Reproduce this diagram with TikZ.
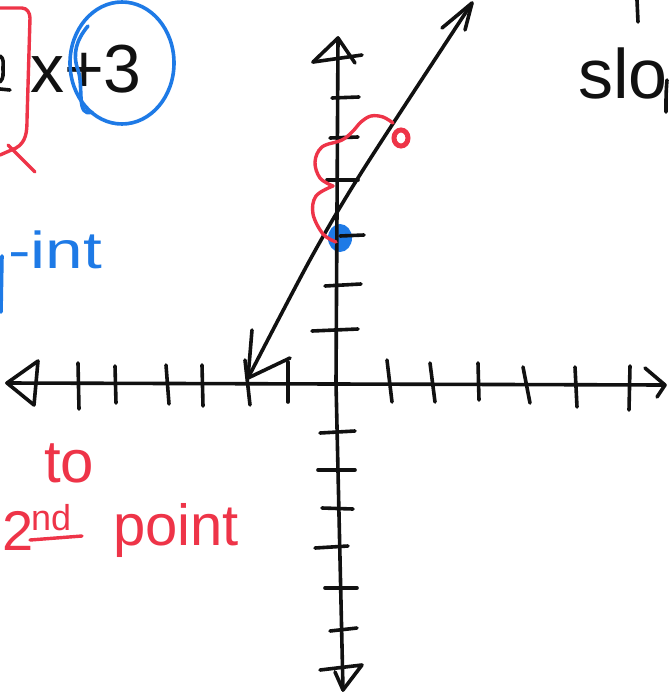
\documentclass[tikz,border=0pt]{standalone}
\usepackage{fontspec}
\usepackage{graphicx}
\setmainfont{Liberation Sans}
\definecolor{inkred}{RGB}{238,52,72}
\definecolor{inkblue}{RGB}{30,122,230}
\definecolor{inkblack}{RGB}{17,17,17}
\begin{document}
\begin{tikzpicture}[x=1pt,y=-1pt,
  ink/.style={draw=inkblack,line width=3.6pt,line cap=round,line join=round},
  redink/.style={draw=inkred,line width=3.4pt,line cap=round,line join=round},
  blueink/.style={draw=inkblue,line width=3.6pt,line cap=round,line join=round},
  blacktext/.style={inner sep=0pt,text=inkblack},
  redtext/.style={inner sep=0pt,text=inkred},
  bluetext/.style={inner sep=0pt,text=inkblue}]
\useasboundingbox (0,0) rectangle (670,694);

% blue dot (y-intercept)
\fill[inkblue] (340,238) ellipse [x radius=12, y radius=14];

% x-axis
\coordinate (xl) at (7,383);
\coordinate (xr) at (665,385);
\draw[ink] (xl) -- (xr);
\draw[ink] (38,361) -- (xl) -- (34,405) -- cycle;
\draw[ink] (645,368) -- (xr) -- (657,397);
\foreach \a/\b/\c/\d in {78/363/79/409, 115/366/116/403, 166/365/169/404, 202/365/203/406,
  245/360/250/405, 288/362/288/402, 387/360/392/402, 430/363/435/402, 478/363/479/400,
  523/367/530/403, 575/367/577/407, 630/366/629/410}
  \draw[ink] (\a,\b) -- (\c,\d);

% y-axis
\coordinate (yt) at (338,38);
\coordinate (ym) at (336,383);
\coordinate (yb) at (343,690);
\draw[ink] (yt) -- (ym) -- (yb);
\draw[ink] (313,62) -- (yt) -- (355,63);
\draw[ink] (313,62) -- (362,55);
\draw[ink] (320,670) -- (362,665) -- (yb) -- (335,672);
\foreach \a/\b/\c/\d in {332/98/359/97, 330/138/358/137, 327/180/358/180, 340/236/364/235,
  325/286/361/284, 312/331/358/329, 320/433/355/431, 318/470/355/470, 322/508/353/509,
  315/548/348/546, 325/588/357/588, 330/631/357/628}
  \draw[ink] (\a,\b) -- (\c,\d);

% the line y = 2x + 3
\coordinate (la) at (248,378);
\coordinate (lb) at (472,3);
\draw[ink] plot[smooth,tension=0.5] coordinates {(la) (311,258) (363,170) (lb)};
\draw[ink] (252,330) -- (la) -- (290,358);
\draw[ink] (442,28) -- (lb) -- (465,30);

% red rise/run loops
\draw[redink] plot[smooth,tension=0.6] coordinates {(336,242) (323,234) (313,214) (316,196) (333,186)};
\draw[redink] plot[smooth,tension=0.6] coordinates {(333,186) (320,178) (315,162) (322,147) (342,140) (353,131) (361,122) (371,116) (383,117) (393,123)};
\draw[inkred,line width=5pt] (401,138) ellipse [x radius=7, y radius=8];

% equation (the "2" is cut off by the left edge: only its end strokes show)
\node[blacktext,anchor=base west,font=\fontsize{68}{80}\selectfont] (eq) at (30,92) {x+3};
\draw[ink] (0,56) to[out=-30,in=90] (3,68) to[out=-90,in=45] (0,82);
\draw[ink] (0,89) -- (10,90);
\draw[redink] (0,8) -- (22,8) to[out=0,in=90] (30,18) -- (27,120) to[out=-90,in=30] (16,148) -- (0,155);
\draw[redink] (8,145) -- (35,172);
\draw[blueink] (122,63) ellipse [x radius=52, y radius=61];
\draw[blueink] (88,26) to[out=230,in=110] (78,70) to[out=-70,in=200] (92,112);

% slope (cut off by the right edge)
\node[blacktext,anchor=base west,font=\fontsize{70}{80}\selectfont] (slope) at (578,98) {slo};
\draw[ink] (667,80) to[out=-95,in=90] (666,112);
\coordinate (sa) at (637,0);
\coordinate (sb) at (638,22);
\draw[ink] (sa) -- (sb);

% y-int (the "y" is cut off by the left edge)
\draw[blueink] (2,256) -- (1,312);
\node[bluetext,anchor=base west,font=\fontsize{52}{60}\selectfont] (yint) at (8,268) {\scalebox{1.3}[1]{-int}};

% to 2nd point
\node[redtext,anchor=base west,font=\fontsize{60}{66}\selectfont] (to) at (44,482) {to};
\node[redtext,anchor=base west,font=\fontsize{56}{60}\selectfont] (second) at (2,550) {2};
\node[redtext,anchor=base west,font=\fontsize{36}{40}\selectfont] (nd) at (31,530) {nd};
\draw[redink] (30,540) -- (82,536);
\node[redtext,anchor=base west,font=\fontsize{58}{60}\selectfont] (point) at (113,545) {point};
\end{tikzpicture}
\end{document}
